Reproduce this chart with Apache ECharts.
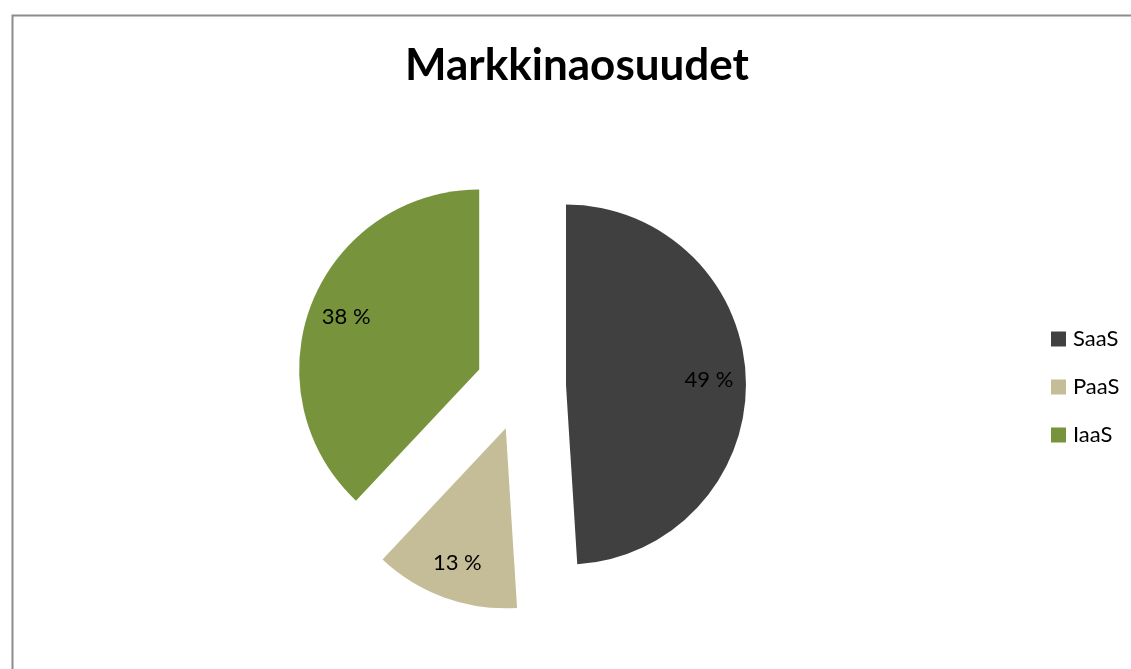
<!DOCTYPE html>
<html>
<head>
<meta charset="utf-8">
<title>Markkinaosuudet</title>
<script src="https://cdn.jsdelivr.net/npm/echarts@6/dist/echarts.min.js"></script>
<style>
  html, body { margin: 0; padding: 0; background: #fff; }
  #chart { width: 1131px; height: 669px; }
</style>
</head>
<body>
<div id="chart"></div>
<script>
// chart data
const categories = ['SaaS', 'PaaS', 'IaaS']
const shares = [49, 13, 38]
const colors = ['#404040', '#c4bd97', '#77933c']

const FONT = 'Lato, "Open Sans", sans-serif'

const chart = echarts.init(document.getElementById('chart'), null, { renderer: 'canvas' })

const pieData = categories.map((name, i) => ({
  name,
  value: shares[i],
  selected: true,
  itemStyle: { color: colors[i] }
}))

const option = {
  animation: false,
  backgroundColor: '#fff',
  title: {
    text: 'Markkinaosuudet',
    left: 400,
    top: 39,
    textStyle: { fontFamily: FONT, fontSize: 44, fontWeight: 'bold', color: '#000' }
  },
  legend: {
    orient: 'vertical',
    left: 1046,
    top: 323,
    icon: 'rect',
    itemWidth: 15,
    itemHeight: 15,
    itemGap: 26,
    selectedMode: false,
    data: categories,
    textStyle: { fontFamily: FONT, fontSize: 22, lineHeight: 22, color: '#000', padding: [0, 0, 0, 2] }
  },
  graphic: [{
    type: 'rect',
    left: 10,
    top: 13,
    shape: { width: 1200, height: 700 },
    style: { fill: 'none', stroke: '#8c8c8c', lineWidth: 2 },
    silent: true
  }],
  series: [
    {
      // visible slices
      type: 'pie',
      center: [521, 386],
      radius: [0, 180],
      startAngle: 90,
      clockwise: true,
      selectedMode: 'multiple',
      selectedOffset: 45,
      label: { show: false },
      labelLine: { show: false },
      emphasis: { disabled: true },
      data: pieData
    },
    {
      // transparent ring that only carries the labels
      type: 'pie',
      center: [521, 386],
      radius: [100, 180],
      startAngle: 90,
      clockwise: true,
      selectedMode: 'multiple',
      selectedOffset: 45,
      silent: true,
      itemStyle: { color: 'rgba(0,0,0,0)' },
      label: {
        show: true,
        position: 'inside',
        formatter: '{c} %',
        fontFamily: FONT,
        fontSize: 22,
        color: '#000'
      },
      labelLine: { show: false },
      emphasis: { disabled: true },
      data: categories.map((name, i) => ({
        name,
        value: shares[i],
        selected: true,
        itemStyle: { color: 'rgba(0,0,0,0)' }
      }))
    }
  ]
}

chart.setOption(option)

window.addEventListener('resize', () => chart.resize())
</script>
</body>
</html>
